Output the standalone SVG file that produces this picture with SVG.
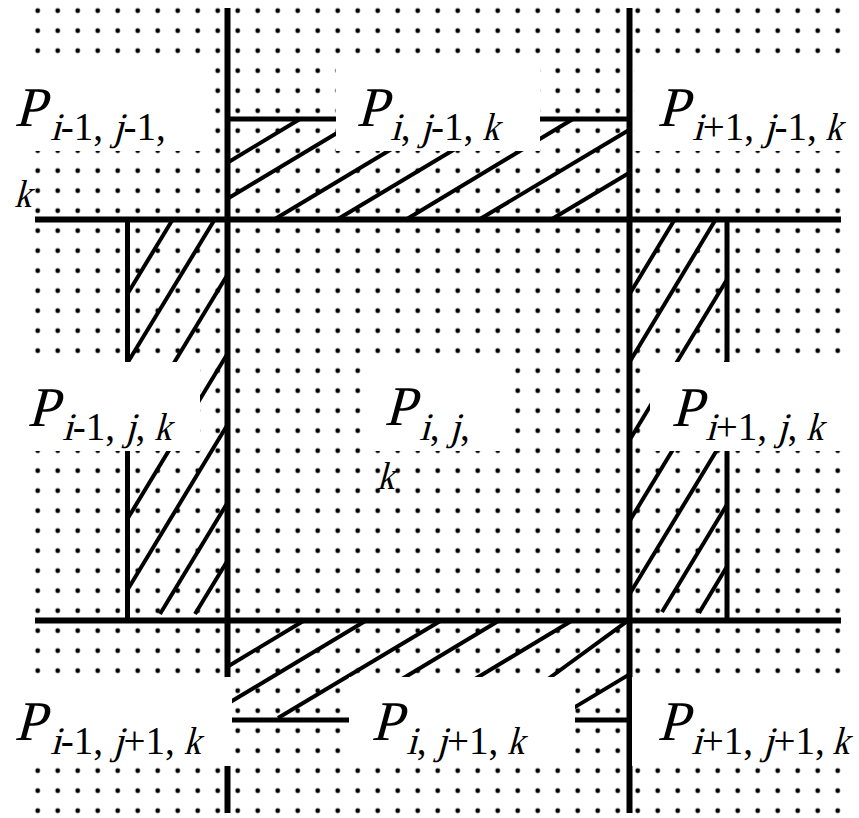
<svg xmlns="http://www.w3.org/2000/svg" width="859" height="818" viewBox="0 0 859 818" font-family="'Liberation Serif', 'Times New Roman', serif">
<style>
.main{stroke:#000;stroke-width:6;fill:none}
.bord{stroke:#000;stroke-width:5;fill:none}
.hatch{stroke:#000;stroke-width:4;fill:none}
.box{fill:#fff}
text{fill:#000;font-style:normal}
.P{font-size:56px}
.s{font-size:39px}
</style>
<defs>
<pattern id="dots" patternUnits="userSpaceOnUse" x="27.7" y="0.7" width="20" height="20">
<circle cx="10" cy="10" r="2.4" fill="#000"/>
</pattern>
</defs>
<rect x="0" y="0" width="859" height="818" fill="#fff"/>
<rect id="grid" x="27.7" y="0.7" width="820" height="820" fill="url(#dots)"/>
<g id="connectors">
<g id="hatch-top" class="hatch">
<line x1="227" y1="163" x2="300" y2="119"/>
<line x1="227" y1="199" x2="342" y2="130"/>
<line x1="275" y1="219" x2="395" y2="147"/>
<line x1="338" y1="219" x2="455" y2="149"/>
<line x1="407" y1="219" x2="573" y2="119"/>
<line x1="480" y1="219" x2="629" y2="130"/>
<line x1="552" y1="219" x2="629" y2="173"/>
</g>
<g id="hatch-bottom" class="hatch">
<line x1="305" y1="620" x2="227" y2="667"/>
<line x1="367" y1="620" x2="227" y2="704"/>
<line x1="442" y1="620" x2="278" y2="718"/>
<line x1="500" y1="620" x2="352" y2="709"/>
<line x1="573" y1="620" x2="470" y2="682"/>
<line x1="628" y1="620.6" x2="548" y2="679"/>
<line x1="629" y1="674.6" x2="574" y2="707.6"/>
</g>
<g id="hatch-left" class="hatch">
<line x1="173" y1="219" x2="128" y2="293"/>
<line x1="215" y1="219" x2="128" y2="362"/>
<line x1="227" y1="275.5" x2="129" y2="437"/>
<line x1="227" y1="354.5" x2="128" y2="518"/>
<line x1="227" y1="425.5" x2="128" y2="589"/>
<line x1="227" y1="503.5" x2="160" y2="614"/>
<line x1="227" y1="561.5" x2="195" y2="614"/>
</g>
<g id="hatch-right" class="hatch">
<line x1="675" y1="219" x2="629" y2="295"/>
<line x1="716" y1="219" x2="629" y2="363"/>
<line x1="727" y1="279.5" x2="629" y2="441"/>
<line x1="727" y1="360.5" x2="629" y2="522"/>
<line x1="727" y1="433.5" x2="629" y2="595"/>
<line x1="727" y1="504.5" x2="662" y2="612"/>
<line x1="727" y1="566.5" x2="699" y2="613"/>
</g>
<g id="borders" class="bord">
<line x1="227" y1="119" x2="629" y2="119"/>
<line x1="227" y1="720" x2="629" y2="720"/>
<line x1="127.5" y1="219" x2="127.5" y2="620"/>
<line x1="727" y1="219" x2="727" y2="620"/>
</g>
<g id="main-lines" class="main">
<line x1="227.5" y1="8" x2="227.5" y2="813"/>
<line x1="629.5" y1="8" x2="629.5" y2="813"/>
<line x1="35" y1="219.5" x2="841" y2="219.5"/>
<line x1="35" y1="620.5" x2="841" y2="620.5"/>
</g>
</g>
<g id="n-im1-jm1">
<rect class="box" x="0" y="62" width="210" height="89"/>
<text class="P" transform="translate(14,126) skewX(-15)">P</text>
<text class="s" transform="translate(50,140) skewX(-15)">i</text>
<text class="s" x="60.8" y="140">-1,</text>
<text class="s" transform="translate(112.8,140) skewX(-15)">j</text>
<text class="s" x="123.6" y="140">-1,</text>
<text class="s" transform="translate(14,207) skewX(-15) scale(0.88,1)">k</text>
</g>
<g id="n-i-jm1">
<rect class="box" x="336" y="62" width="204" height="89"/>
<text class="P" transform="translate(356,126) skewX(-15)">P</text>
<text class="s" transform="translate(390,140) skewX(-15)">i</text>
<text class="s" x="400.8" y="140">,</text>
<text class="s" transform="translate(420.3,140) skewX(-15)">j</text>
<text class="s" x="431.1" y="140">-1,</text>
<text class="s" transform="translate(482,140) skewX(-15) scale(0.88,1)">k</text>
</g>
<g id="n-ip1-jm1">
<rect class="box" x="635" y="62" width="224" height="89"/>
<text class="P" transform="translate(657,126) skewX(-15)">P</text>
<text class="s" transform="translate(692,140) skewX(-15)">i</text>
<text class="s" x="702.8" y="140">+1,</text>
<text class="s" transform="translate(763.8,140) skewX(-15)">j</text>
<text class="s" x="774.6" y="140">-1,</text>
<text class="s" transform="translate(825,140) skewX(-15) scale(0.88,1)">k</text>
</g>
<g id="n-im1-j">
<rect class="box" x="0" y="362" width="200" height="89"/>
<text class="P" transform="translate(27,426) skewX(-15)">P</text>
<text class="s" transform="translate(62,440) skewX(-15)">i</text>
<text class="s" x="72.8" y="440">-1,</text>
<text class="s" transform="translate(124.8,440) skewX(-15)">j</text>
<text class="s" x="135.6" y="440">,</text>
<text class="s" transform="translate(154,440) skewX(-15) scale(0.88,1)">k</text>
</g>
<g id="n-i-j">
<rect class="box" x="367" y="362" width="143" height="89"/>
<text class="P" transform="translate(384,425) skewX(-15)">P</text>
<text class="s" transform="translate(419,440) skewX(-15)">i</text>
<text class="s" x="429.8" y="440">,</text>
<text class="s" transform="translate(449.3,440) skewX(-15)">j</text>
<text class="s" x="460.1" y="440">,</text>
<text class="s" transform="translate(377,489) skewX(-15) scale(0.88,1)">k</text>
</g>
<g id="n-ip1-j">
<rect class="box" x="650" y="362" width="209" height="89"/>
<text class="P" transform="translate(671,426) skewX(-15)">P</text>
<text class="s" transform="translate(705,440) skewX(-15)">i</text>
<text class="s" x="715.8" y="440">+1,</text>
<text class="s" transform="translate(776.8,440) skewX(-15)">j</text>
<text class="s" x="787.6" y="440">,</text>
<text class="s" transform="translate(806,440) skewX(-15) scale(0.88,1)">k</text>
</g>
<g id="n-im1-jp1">
<rect class="box" x="0" y="677" width="232" height="89"/>
<text class="P" transform="translate(14,740) skewX(-15)">P</text>
<text class="s" transform="translate(50,754) skewX(-15)">i</text>
<text class="s" x="60.8" y="754">-1,</text>
<text class="s" transform="translate(112.8,754) skewX(-15)">j</text>
<text class="s" x="123.6" y="754">+1,</text>
<text class="s" transform="translate(183.5,754) skewX(-15) scale(0.88,1)">k</text>
</g>
<g id="n-i-jp1">
<rect class="box" x="349" y="677" width="226" height="89"/>
<text class="P" transform="translate(371,740) skewX(-15)">P</text>
<text class="s" transform="translate(406,754) skewX(-15)">i</text>
<text class="s" x="416.8" y="754">,</text>
<text class="s" transform="translate(436.3,754) skewX(-15)">j</text>
<text class="s" x="447.1" y="754">+1,</text>
<text class="s" transform="translate(507,754) skewX(-15) scale(0.88,1)">k</text>
</g>
<g id="n-ip1-jp1">
<rect class="box" x="632" y="677" width="227" height="89"/>
<text class="P" transform="translate(657,740) skewX(-15)">P</text>
<text class="s" transform="translate(691,754) skewX(-15)">i</text>
<text class="s" x="701.8" y="754">+1,</text>
<text class="s" transform="translate(762.8,754) skewX(-15)">j</text>
<text class="s" x="773.6" y="754">+1,</text>
<text class="s" transform="translate(832,754) skewX(-15) scale(0.88,1)">k</text>
</g>
</svg>
